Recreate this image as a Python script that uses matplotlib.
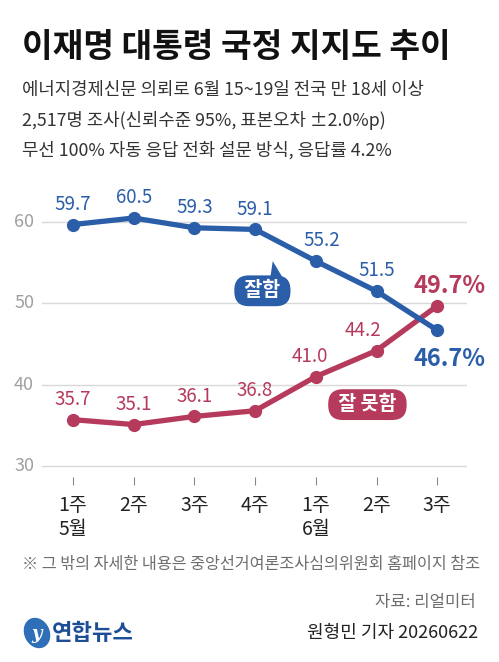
import matplotlib
matplotlib.use("Agg")
import matplotlib.pyplot as plt
from matplotlib.patches import Polygon, Ellipse

# ---- data ----
weeks = ['1주\n5월', '2주', '3주', '4주', '1주\n6월', '2주', '3주']
approve = [59.7, 60.5, 59.3, 59.1, 55.2, 51.5, 46.7]
disapprove = [35.7, 35.1, 36.1, 36.8, 41.0, 44.2, 49.7]
yticks = [30, 40, 50, 60]

title = '이재명 대통령 국정 지지도 추이'
subtitle = ['에너지경제신문 의뢰로 6월 15~19일 전국 만 18세 이상',
            '2,517명 조사(신뢰수준 95%, 표본오차 ±2.0%p)',
            '무선 100% 자동 응답 전화 설문 방식, 응답률 4.2%']
footnote = '※ 그 밖의 자세한 내용은 중앙선거여론조사심의위원회 홈페이지 참조'
source = '자료: 리얼미터'
credit = '원형민 기자 20260622'

FONT = ['Noto Sans CJK KR', 'DejaVu Sans']
plt.rcParams['font.family'] = FONT

BLUE = '#2b5ea8'
RED = '#b63a5c'

W, H = 499, 662
fig = plt.figure(figsize=(W / 100, H / 100), dpi=100)
fig.patch.set_facecolor('white')

def fx(px):
    return px / W

def fy(py):
    return 1 - py / H

# axes placement (pixels)
left_px, right_px = 42, 467
top_px, bot_px = 197.7, 477.4
ax = fig.add_axes([fx(left_px), fy(bot_px), fx(right_px - left_px), (bot_px - top_px) / H])
ax.set_xlim(-0.51, 6.49)
ax.set_ylim(28.6, 63.0)
for s in ax.spines.values():
    s.set_visible(False)
ax.set_facecolor('none')

for yv in yticks:
    ax.axhline(yv, color='#d9d9d9', lw=1.0, zorder=1)
    ax.text(-0.64, yv, str(yv), ha='right', va='center', fontsize=13,
            color='#a0a0a0', fontweight='light')
ax.set_yticks([])

x = list(range(len(weeks)))
ax.set_xticks(x)
ax.set_xticklabels(weeks, fontsize=14, color='#222222', linespacing=1.15, va='top')
ax.tick_params(axis='x', length=6, width=0.8, color='#888888', pad=7, direction='out')

ax.plot(x, approve, color=BLUE, lw=3.8, marker='o', ms=8.5, zorder=4,
        solid_capstyle='round', clip_on=False)
ax.plot(x, disapprove, color=RED, lw=3.8, marker='o', ms=8.5, zorder=3,
        solid_capstyle='round', clip_on=False)

# data labels
a_off = [(0, 7), (0, 7), (0, 7), (0, 7), (4, 7), (0, 7)]
d_off = [(0, 7), (0, 7), (0, 7), (0, 7), (-4, 7), (-10, 7)]
for i in range(len(weeks) - 1):
    ax.annotate(f'{approve[i]:.1f}', (x[i], approve[i]), xytext=a_off[i],
                textcoords='offset points', ha='center', va='bottom',
                fontsize=13.5, color=BLUE)
    ax.annotate(f'{disapprove[i]:.1f}', (x[i], disapprove[i]), xytext=d_off[i],
                textcoords='offset points', ha='center', va='bottom',
                fontsize=13.5, color=RED)
ax.annotate(f'{approve[-1]:.1f}%', (x[-1], approve[-1]), xytext=(9, -12),
            textcoords='offset points', ha='center', va='top',
            fontsize=17, fontweight='bold', color=BLUE, annotation_clip=False)
ax.annotate(f'{disapprove[-1]:.1f}%', (x[-1], disapprove[-1]), xytext=(9, 6),
            textcoords='offset points', ha='center', va='bottom',
            fontsize=17, fontweight='bold', color=RED, annotation_clip=False)

# callouts
ax.add_patch(Polygon([(3.29, 55.2), (3.24, 52.6), (3.50, 52.6)], closed=True,
                     color=BLUE, zorder=5, lw=0))
ax.text(3.12, 51.55, ' 잘함 ', ha='center', va='center', fontsize=14, fontweight='bold',
        color='white', zorder=6,
        bbox=dict(boxstyle='round,pad=0.3,rounding_size=0.75', fc=BLUE, ec='none'))
ax.add_patch(Polygon([(4.80, 39.4), (4.80, 37.0), (5.05, 37.0)], closed=True,
                     color=RED, zorder=5, lw=0))
ax.text(4.85, 37.55, ' 잘 못함 ', ha='center', va='center', fontsize=14, fontweight='bold',
        color='white', zorder=6,
        bbox=dict(boxstyle='round,pad=0.3,rounding_size=0.75', fc=RED, ec='none'))

# titles
fig.text(fx(22), fy(47), title, fontsize=24, fontweight='bold', color='#111111',
         ha='left', va='center')
for i, line in enumerate(subtitle):
    fig.text(fx(22), fy(90 + 30 * i), line, fontsize=12.8, color='#333333',
             ha='left', va='center', fontweight='light')

fig.text(fx(22), fy(565), footnote, fontsize=11.7, color='#6e6e6e', ha='left',
         va='center', fontweight='light')
fig.text(fx(476), fy(602), source, fontsize=12, color='#6e6e6e', ha='right',
         va='center', fontweight='light')
fig.text(fx(478), fy(633), credit, fontsize=13, color='#222222', ha='right',
         va='center')

# logo
logo_ax = fig.add_axes([0, 0, 1, 1], facecolor='none')
logo_ax.set_xlim(0, W)
logo_ax.set_ylim(H, 0)
logo_ax.axis('off')
logo_ax.add_patch(Ellipse((37, 633), 24, 30, angle=-25, color='#2f6fb8'))
logo_ax.text(37, 634, 'y', ha='center', va='center', fontsize=13, color='white',
             style='italic', fontweight='bold', family='DejaVu Serif')
fig.text(fx(52), fy(633), '연합뉴스', fontsize=16, fontweight='bold', color='#1d4e97',
         ha='left', va='center')

fig.savefig('out.png', dpi=100, facecolor='white')
